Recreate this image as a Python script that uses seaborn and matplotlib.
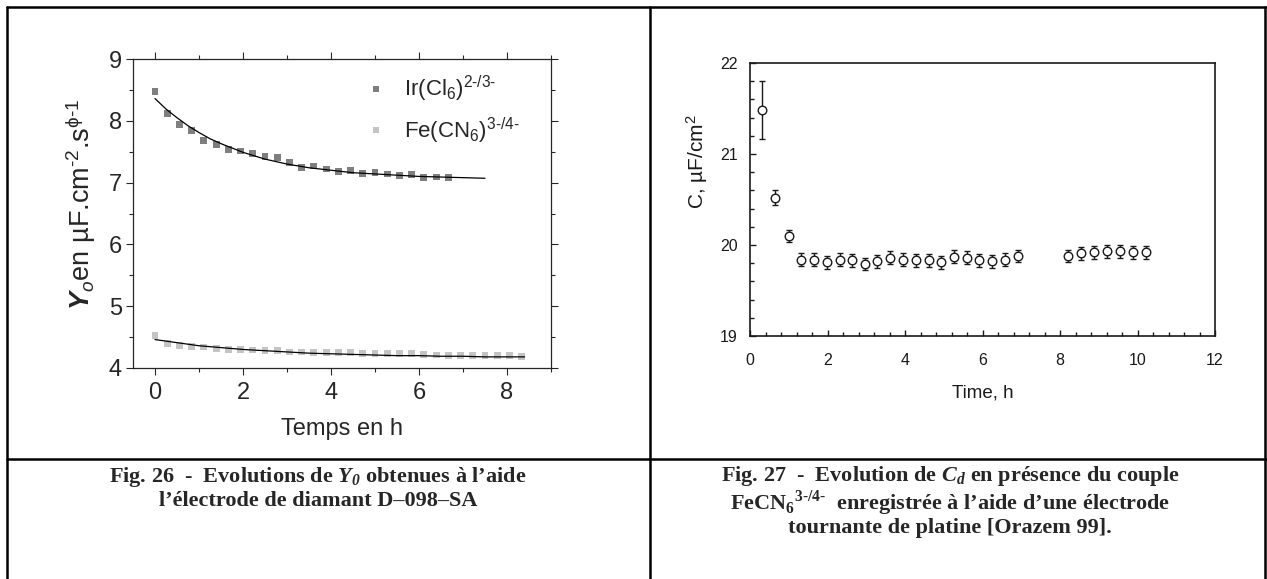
import numpy as np
import pandas as pd
import seaborn as sns
import matplotlib.pyplot as plt
from matplotlib.lines import Line2D
from matplotlib.ticker import MultipleLocator

# Fig. 26 : Y0 vs temps, electrode de diamant D-098-SA
t_ir = [0, 0.28, 0.56, 0.83, 1.11, 1.39, 1.67, 1.94, 2.22, 2.5, 2.78, 3.06, 3.33,
        3.61, 3.89, 4.17, 4.44, 4.72, 5.0, 5.28, 5.56, 5.83, 6.11, 6.39, 6.67]
y_ir = [8.48, 8.12, 7.94, 7.84, 7.68, 7.62, 7.53, 7.51, 7.47, 7.42, 7.40, 7.32, 7.25,
        7.27, 7.22, 7.18, 7.19, 7.15, 7.16, 7.14, 7.12, 7.13, 7.08, 7.09, 7.08]
t_fe = [0, 0.28, 0.56, 0.83, 1.11, 1.39, 1.67, 1.94, 2.22, 2.5, 2.78, 3.06, 3.33,
        3.61, 3.89, 4.17, 4.44, 4.72, 5.0, 5.28, 5.56, 5.83, 6.11, 6.39, 6.67,
        6.94, 7.22, 7.5, 7.78, 8.06, 8.33]
y_fe = [4.53, 4.40, 4.37, 4.35, 4.34, 4.31, 4.30, 4.30, 4.29, 4.28, 4.28, 4.26, 4.26,
        4.25, 4.25, 4.25, 4.25, 4.23, 4.23, 4.23, 4.23, 4.23, 4.22, 4.21, 4.20,
        4.20, 4.20, 4.20, 4.20, 4.20, 4.18]
# courbes d'ajustement
fit_t_ir = [0, 0.25, 0.5, 0.75, 1, 1.25, 1.5, 2, 2.5, 3, 3.5, 4, 4.5, 5, 5.5, 6, 6.5, 7, 7.5]
fit_ir = [8.36, 8.19, 8.05, 7.92, 7.81, 7.71, 7.63, 7.49, 7.38, 7.30, 7.24, 7.20,
          7.16, 7.14, 7.12, 7.10, 7.09, 7.08, 7.07]
fit_t_fe = [0, 0.5, 1, 1.5, 2, 2.5, 3, 3.5, 4, 4.5, 5, 5.5, 6, 6.5, 7, 7.5, 8, 8.4]
fit_fe = [4.46, 4.41, 4.36, 4.33, 4.30, 4.28, 4.26, 4.24, 4.23, 4.22, 4.21, 4.20,
          4.20, 4.19, 4.19, 4.18, 4.18, 4.18]
lab_ir = r'Ir(Cl$_{\mathrm{6}}$)$^{\mathrm{2‐/3‐}}$'
lab_fe = r'Fe(CN$_{\mathrm{6}}$)$^{\mathrm{3‐/4‐}}$'

# Fig. 27 : Cd vs temps, electrode tournante de platine [Orazem 99]
t_pt = [0.32, 0.65, 1.0, 1.32, 1.66, 1.99, 2.32, 2.64, 2.96, 3.29, 3.62, 3.95, 4.28,
        4.61, 4.94, 5.26, 5.59, 5.92, 6.25, 6.57, 6.91,
        8.21, 8.54, 8.88, 9.21, 9.55, 9.88, 10.22]
c_pt = [21.48, 20.52, 20.10, 19.84, 19.84, 19.81, 19.84, 19.83, 19.79, 19.82, 19.86,
        19.84, 19.83, 19.83, 19.81, 19.87, 19.86, 19.83, 19.82, 19.84, 19.88,
        19.88, 19.91, 19.92, 19.93, 19.93, 19.92, 19.92]
err_pt = [0.32, 0.08, 0.07, 0.07, 0.07, 0.07, 0.07, 0.07, 0.07, 0.07, 0.07, 0.07,
          0.07, 0.07, 0.07, 0.07, 0.07, 0.07, 0.07, 0.07, 0.07,
          0.07, 0.07, 0.07, 0.07, 0.07, 0.07, 0.07]

sns.set_style('ticks')
plt.rcParams['font.family'] = ['Liberation Sans', 'DejaVu Sans']
plt.rcParams['mathtext.fontset'] = 'custom'
plt.rcParams['mathtext.rm'] = 'Liberation Sans'
plt.rcParams['mathtext.it'] = 'Liberation Sans:italic'
plt.rcParams['mathtext.bf'] = 'Liberation Sans:italic:bold'
plt.rcParams['mathtext.sf'] = 'Liberation Serif:bold'
plt.rcParams['mathtext.bfit'] = 'Liberation Serif:italic:bold'

W, H = 1267, 579
fig = plt.figure(figsize=(W / 100, H / 100), dpi=100)


def box(l, t, r, b):
    return [l / W, 1 - b / H, (r - l) / W, (b - t) / H]


# ---- left chart
ax1 = fig.add_axes(box(133, 59, 551, 368))
df = pd.DataFrame({'t': t_ir + t_fe, 'y': y_ir + y_fe,
                   'couple': [lab_ir] * len(t_ir) + [lab_fe] * len(t_fe)})
sns.scatterplot(data=df, x='t', y='y', hue='couple', marker='s', s=24, linewidth=0,
                palette={lab_ir: '#7f7f7f', lab_fe: '#c4c4c4'}, ax=ax1, zorder=2)
sns.lineplot(x=fit_t_ir, y=fit_ir, color='black', lw=0.9, ax=ax1, zorder=3)
sns.lineplot(x=fit_t_fe, y=fit_fe, color='black', lw=0.9, ax=ax1, zorder=3)
ax1.set_xlim(-0.5, 9)
ax1.set_ylim(4, 9)
ax1.xaxis.set_major_locator(MultipleLocator(2))
ax1.xaxis.set_minor_locator(MultipleLocator(1))
ax1.yaxis.set_major_locator(MultipleLocator(1))
ax1.yaxis.set_minor_locator(MultipleLocator(0.5))
ax1.tick_params(which='both', direction='out', top=True, right=True, width=0.8)
ax1.tick_params(which='major', length=5, labelsize=17)
ax1.tick_params(which='minor', length=3)
ax1.tick_params(axis='x', pad=5)
ax1.tick_params(axis='y', pad=3)
for sp in ax1.spines.values():
    sp.set_linewidth(0.9)
ax1.set_xlabel('Temps en h', fontsize=17, labelpad=10)
ax1.set_ylabel(r'$\mathbf{Y}_{\mathit{o}}$en µF.cm$^{\mathrm{‐2}}$.s$^{\mathrm{ϕ‐1}}$',
               fontsize=19.5)
ax1.yaxis.set_label_coords(-0.083, 0.53)
handles, labels = ax1.get_legend_handles_labels()
ax1.legend(handles, labels, loc='upper left', bbox_to_anchor=(0.52, 0.98), frameon=False,
           fontsize=16, handletextpad=0.5, labelspacing=0.5, borderaxespad=0,
           handlelength=1.5, markerscale=1.0)

# ---- right chart
ink = '#1a1a1a'
ax2 = fig.add_axes(box(750, 63, 1215, 336))
ax2.errorbar(t_pt, c_pt, yerr=err_pt, fmt='none', ecolor=ink, elinewidth=1.0,
             capsize=2.3, capthick=1.0, zorder=2)
sns.scatterplot(x=t_pt, y=c_pt, marker='o', s=38, facecolor='white', edgecolor=ink,
                linewidth=1.0, ax=ax2, zorder=3)
ax2.set_xlim(0, 12)
ax2.set_ylim(19, 22)
ax2.xaxis.set_major_locator(MultipleLocator(2))
ax2.xaxis.set_minor_locator(MultipleLocator(0.4))
ax2.yaxis.set_major_locator(MultipleLocator(1))
ax2.yaxis.set_minor_locator(MultipleLocator(0.2))
ax2.tick_params(which='both', direction='in', color=ink, labelcolor=ink, width=1.0)
ax2.tick_params(which='major', length=4.5, labelsize=11.5)
ax2.tick_params(which='minor', length=3)
ax2.tick_params(axis='x', pad=12)
ax2.tick_params(axis='y', pad=9)
for sp in ax2.spines.values():
    sp.set_linewidth(1.2)
    sp.set_color(ink)
ax2.set_xlabel('Time, h', fontsize=13.5, color=ink, labelpad=12)
ax2.set_ylabel(r'C, µF/cm$^{\mathrm{2}}$', fontsize=15, color=ink)
ax2.yaxis.set_label_coords(-0.085, 0.64)

# ---- table frame
lw = 1.8
for x0, y0, x1, y1 in [(7, 7, W, 7), (7, 459, W, 459), (7, 7, 7, H),
                       (650, 7, 650, H), (1265, 7, 1265, H)]:
    fig.add_artist(Line2D([x0 / W, x1 / W], [1 - y0 / H, 1 - y1 / H],
                          color='black', lw=lw, transform=fig.transFigure))

# ---- captions
cap = dict(family=['Liberation Serif', 'DejaVu Serif'], weight='bold', fontsize=16,
           ha='center', va='baseline')
fig.text(318 / W, 1 - 482 / H,
         r'Fig. 26  -  Evolutions de $\mathbfit{Y}_{\mathbfit{0}}$ obtenues à l’aide', **cap)
fig.text(318 / W, 1 - 506 / H, 'l’électrode de diamant D–098–SA', **cap)
fig.text(950 / W, 1 - 481 / H,
         r'Fig. 27  -  Evolution de $\mathbfit{C}_{\mathbfit{d}}$ en présence du couple', **cap)
fig.text(950 / W, 1 - 510 / H,
         r'FeCN$_{\mathsf{6}}$$^{\mathsf{3‐/4‐}}$  enregistrée à l’aide d’une électrode', **cap)
fig.text(950 / W, 1 - 533 / H, 'tournante de platine [Orazem 99].', **cap)

fig.savefig('out.png', dpi=100)
